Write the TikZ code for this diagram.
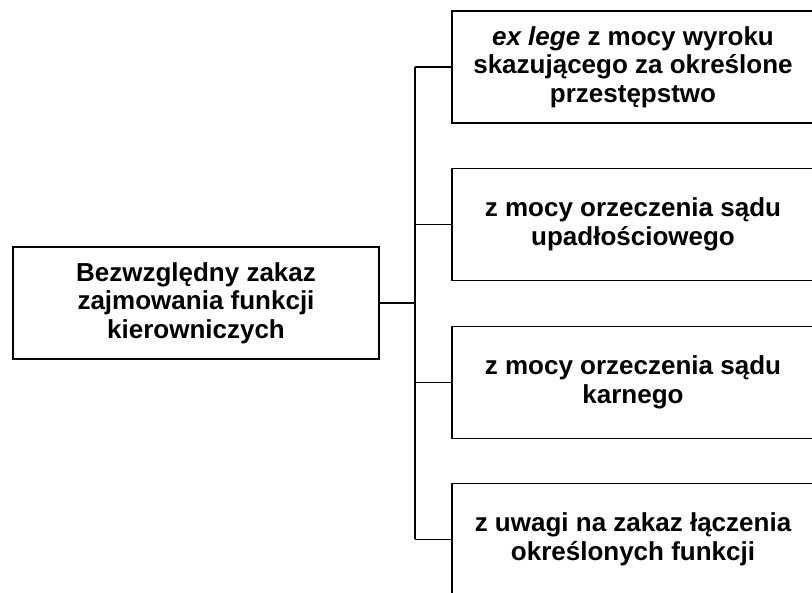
\documentclass[tikz,border=0pt]{standalone}
\usepackage{fontspec}
\setmainfont{Liberation Sans}
\begin{document}
\begin{tikzpicture}[x=1pt,y=-1pt,
  box/.style={draw=black,line width=1.9pt,fill=white,align=center,
    font=\fontsize{26}{28.5}\selectfont\bfseries,inner sep=0pt},
  lbox/.style={box,minimum width=366pt,minimum height=112pt},
  rbox/.style={box,minimum width=362pt,minimum height=112pt},
  conn/.style={draw=black,line width=1.9pt}]
\useasboundingbox (0,0) rectangle (812,593);
\node[lbox] (L) at (196,303) {Bezwzględny zakaz\\zajmowania funkcji\\kierowniczych};
\node[rbox] (R1) at (633,67) {\textit{ex lege} z mocy wyroku\\skazującego za określone\\przestępstwo};
\node[rbox] (R2) at (633,224.5) {z mocy orzeczenia sądu\\upadłościowego};
\node[rbox] (R3) at (633,382.5) {z mocy orzeczenia sądu\\karnego};
\node[rbox] (R4) at (633,539.5) {z uwagi na zakaz łączenia\\określonych funkcji};
\coordinate (t) at (415,303);
\draw[conn] (L.east) -- (t);
\draw[conn] (t |- R1.west) -- (t |- R4.west);
\draw[conn] (t |- R1.west) -- (R1.west);
\draw[conn] (t |- R2.west) -- (R2.west);
\draw[conn] (t |- R3.west) -- (R3.west);
\draw[conn] (t |- R4.west) -- (R4.west);
\end{tikzpicture}
\end{document}
